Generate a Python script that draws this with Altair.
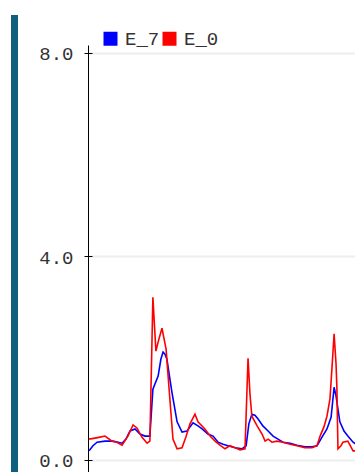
import altair as alt
import pandas as pd

# E_0 (red) series: time index and value
t_e0 = [0.4, 2.5, 4.4, 6.2, 8.7, 10.5, 12.4, 14.5, 16.4, 17.8, 19.6, 21.5, 22.5, 23.6, 24.7, 25.8,
        26.9, 28.4, 29.5, 30.9, 32.4, 34.2, 35.6, 37.1, 38.9, 40.0, 42.5, 44.4, 46.2, 48.0, 49.8,
        51.6, 53.5, 55.3, 57.1, 58.2, 58.9, 59.6, 61.5, 63.3, 64.4, 65.5, 66.9, 68.7, 70.9, 73.5,
        76.0, 78.9, 81.5, 83.3, 84.4, 85.8, 86.9, 88.0, 88.7, 89.5, 90.2, 90.5, 90.9, 92.0, 92.7,
        94.5, 96.4, 98.2, 100.0]
v_e0 = [0.41, 0.43, 0.45, 0.47, 0.37, 0.35, 0.29, 0.47, 0.69, 0.63, 0.45, 0.33, 0.37, 3.20, 2.14, 2.38,
        2.59, 2.18, 1.39, 0.41, 0.22, 0.24, 0.45, 0.71, 0.90, 0.75, 0.61, 0.47, 0.37, 0.29, 0.22,
        0.28, 0.24, 0.20, 0.22, 2.00, 1.30, 0.86, 0.67, 0.51, 0.37, 0.41, 0.35, 0.37, 0.35, 0.31,
        0.28, 0.24, 0.24, 0.28, 0.47, 0.65, 0.86, 1.20, 1.79, 2.48, 1.89, 1.45, 0.22, 0.28, 0.35,
        0.37, 0.18, 0.18, 0.31]

# E_7 (blue) series
t_e7 = [0.4, 1.8, 3.3, 6.2, 9.1, 10.9, 12.4, 13.8, 15.3, 17.1, 18.9, 20.7, 22.5, 23.6, 25.5, 26.5,
        27.3, 28.0, 28.7, 30.5, 32.4, 34.2, 36.0, 38.2, 40.0, 41.5, 43.6, 45.5, 47.3, 49.1, 50.9,
        53.5, 56.0, 57.5, 58.5, 59.6, 60.7, 61.8, 63.6, 65.5, 67.3, 69.1, 70.9, 73.5, 76.0, 78.9,
        81.5, 83.3, 85.1, 86.9, 88.4, 89.5, 90.2, 90.9, 91.6, 93.1, 94.5, 96.4, 98.2, 100.0]
v_e7 = [0.18, 0.28, 0.35, 0.37, 0.37, 0.35, 0.33, 0.41, 0.57, 0.61, 0.51, 0.47, 0.47, 1.39, 1.65, 1.98,
        2.12, 2.08, 1.98, 1.34, 0.75, 0.55, 0.57, 0.73, 0.67, 0.61, 0.51, 0.47, 0.35, 0.31, 0.28,
        0.24, 0.22, 0.28, 0.71, 0.90, 0.88, 0.81, 0.67, 0.57, 0.47, 0.41, 0.35, 0.33, 0.29, 0.26,
        0.26, 0.28, 0.45, 0.61, 0.84, 1.43, 1.26, 1.00, 0.75, 0.57, 0.47, 0.35, 0.28, 0.33]

series = ["E_7", "E_0"]
colors = ["#0000ff", "#ff0000"]
y_ticks = [0, 4, 8]

df = pd.concat([
    pd.DataFrame({"t": t_e7, "v": v_e7, "series": "E_7"}),
    pd.DataFrame({"t": t_e0, "v": v_e0, "series": "E_0"}),
], ignore_index=True)

x_scale = alt.Scale(domain=[0, 97.1], nice=False, zero=False)
y_scale = alt.Scale(domain=[-0.236, 8.157], nice=False, zero=False)
color_scale = alt.Scale(domain=series, range=colors)

FONT = "Liberation Mono"
FS = 19

lines = alt.Chart(df).mark_line(strokeWidth=1.6).encode(
    x=alt.X("t:Q", scale=x_scale, axis=None),
    y=alt.Y("v:Q", scale=y_scale,
            axis=alt.Axis(values=y_ticks, format=".1f", title=None, orient="left",
                          labelFont=FONT, labelFontSize=FS, labelColor="#333333",
                          labelPadding=11, labelOffset=1, tickSize=4, tickColor="#000000",
                          domainColor="#000000", grid=True, gridColor="#eeeeee",
                          gridWidth=2)),
    color=alt.Color("series:N", scale=color_scale,
                    legend=alt.Legend(title=None, orient="none", legendX=13, legendY=-16,
                                      direction="horizontal", symbolType="square",
                                      symbolSize=4, symbolStrokeWidth=12,
                                      labelFont=FONT, labelFontSize=FS,
                                      labelColor="#333333", labelOffset=5,
                                      columnPadding=-19)),
)

# inner half of the crossing ticks
inner_ticks = alt.Chart(df).mark_line(opacity=0).encode(
    x=alt.X("t:Q", scale=x_scale, axis=None),
    y=alt.Y("v:Q", scale=y_scale,
            axis=alt.Axis(values=y_ticks, title=None, orient="left", offset=-4,
                          labels=False, domain=False, grid=False,
                          tickSize=4, tickColor="#000000")),
)

bar = alt.Chart(pd.DataFrame({"k": [0]})).mark_rule(color="#0f5f7f", strokeWidth=7).encode(
    x=alt.value(-73.5), y=alt.value(-30), y2=alt.value(440)
)

chart = alt.layer(bar, lines, inner_ticks).resolve_axis(y="independent").properties(
    width=267, height=427,
    padding={"left": 80, "top": 37, "right": 0, "bottom": 0},
    autosize=alt.AutoSizeParams(type="none"),
    background="#ffffff",
).configure_view(stroke=None)

chart.save("out.html", embed_options={"renderer": "svg", "actions": False})
